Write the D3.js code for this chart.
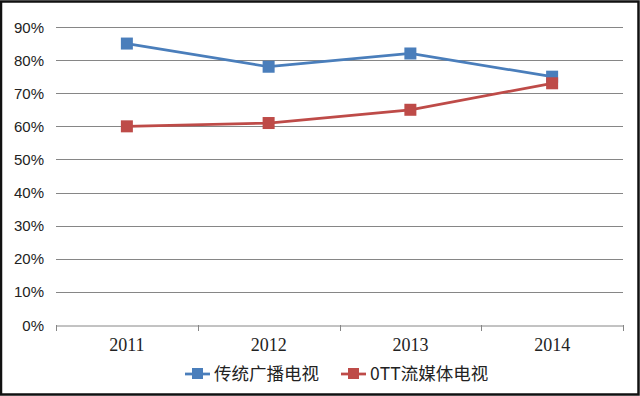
<!DOCTYPE html>
<html><head><meta charset="utf-8">
<script src="https://cdn.jsdelivr.net/npm/d3@7"></script>
<style>body{margin:0;background:#fff}svg{display:block}</style>
</head><body>
<script>
const categories = ["2011","2012","2013","2014"];
const seriesNames = ["传统广播电视","0TT流媒体电视"];
const traditional = [0.85,0.78,0.82,0.75];
const ott = [0.60,0.61,0.65,0.73];
const yTicks = [0,0.1,0.2,0.3,0.4,0.5,0.6,0.7,0.8,0.9];
const colors = ["#4A7EBB","#BE4B48"];

const W=640,H=396;
const svg=d3.select("body").append("svg").attr("width",W).attr("height",H);
svg.append("rect").attr("x",1).attr("y",1.5).attr("width",W-2.5).attr("height",H-3).attr("fill","#fff").attr("stroke","#111").attr("stroke-width",2.5);

const x=d3.scaleBand().domain(categories).range([56,623]);
const y=d3.scaleLinear().domain([0,0.9]).range([325,27]);

const g=svg.append("g");
g.selectAll("line.grid").data(yTicks.slice(1)).join("line")
 .attr("x1",56).attr("x2",623).attr("y1",d=>Math.round(y(d))+0.5).attr("y2",d=>Math.round(y(d))+0.5)
 .attr("stroke","#868686").attr("stroke-width",1);

const xa=svg.append("g").attr("transform","translate(0,325.5)").call(d3.axisBottom(x).tickSize(0).tickFormat(""));
xa.select(".domain").attr("stroke","#868686");
const bounds=[...categories.map(c=>x(c)),623];
svg.selectAll("line.xt").data(bounds).join("line").attr("x1",d=>Math.round(d)+0.5).attr("x2",d=>Math.round(d)+0.5)
 .attr("y1",325).attr("y2",331).attr("stroke","#868686");
svg.selectAll("text.xl").data(categories).join("text")
 .attr("x",d=>x(d)+x.bandwidth()/2).attr("y",351).attr("text-anchor","middle")
 .attr("font-family","Liberation Serif, serif").attr("font-size",18).attr("fill","#222").text(d=>d);

svg.selectAll("text.yl").data(yTicks).join("text")
 .attr("x",44).attr("y",d=>y(d)+5.5).attr("text-anchor","end")
 .attr("font-family","Liberation Sans, Arial, sans-serif").attr("font-size",15).attr("fill","#222")
 .text(d=>d3.format(".0%")(d));

const cx=c=>x(c)+x.bandwidth()/2;
const line=d3.line().x((d,i)=>cx(categories[i])).y(d=>y(d));
[traditional,ott].forEach((s,k)=>{
  svg.append("path").datum(s).attr("d",line).attr("fill","none").attr("stroke",colors[k]).attr("stroke-width",2.75);
  svg.selectAll(null).data(s).join("rect")
   .attr("x",(d,i)=>cx(categories[i])-6).attr("y",d=>y(d)-6).attr("width",12).attr("height",12).attr("fill",colors[k]);
});

const leg=[{x:185,tx:214},{x:341,tx:370}];
seriesNames.forEach((n,k)=>{
  const L=leg[k];
  svg.append("line").attr("x1",L.x).attr("x2",L.x+25).attr("y1",374).attr("y2",374).attr("stroke",colors[k]).attr("stroke-width",2.75);
  svg.append("rect").attr("x",L.x+7).attr("y",368).attr("width",11).attr("height",11).attr("fill",colors[k]);
  svg.append("text").attr("x",L.tx).attr("y",380).attr("font-family","Noto Sans CJK SC, sans-serif").attr("font-size",17.5).attr("fill","#222").text(n);
});
</script>
</body></html>
